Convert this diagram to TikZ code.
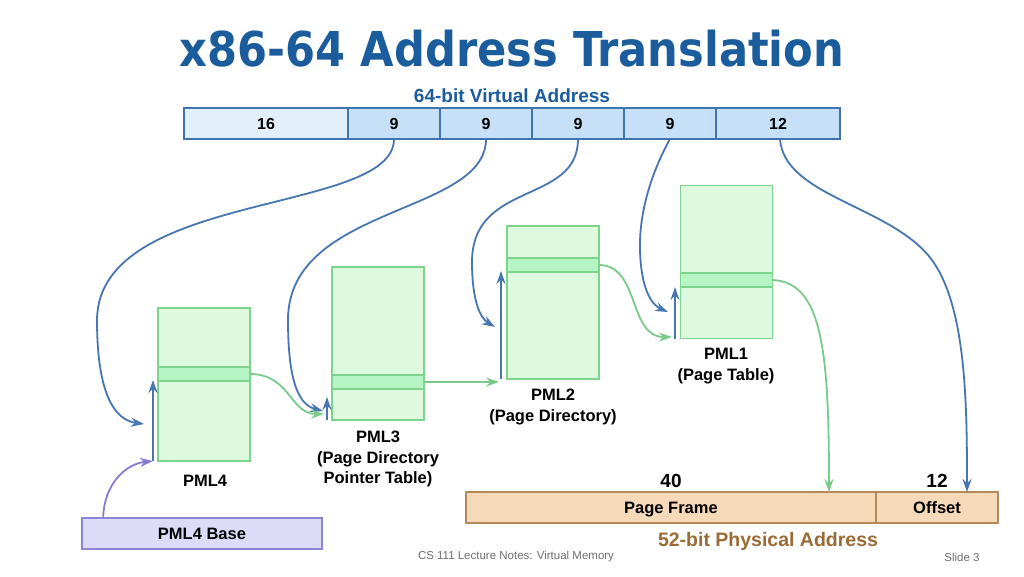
\documentclass[tikz,border=0pt]{standalone}
\usepackage{fontspec}
\setmainfont{Liberation Sans}
\newfontfamily\titlefont{DejaVu Sans Condensed}
\usetikzlibrary{arrows.meta,calc}
\definecolor{titleblue}{HTML}{1A5C9C}
\definecolor{barfill}{HTML}{C6E0F7}
\definecolor{barfillL}{HTML}{E2F0FC}
\definecolor{barline}{HTML}{3F74AE}
\definecolor{arrblue}{HTML}{4776B0}
\definecolor{tabfill}{HTML}{DDFADF}
\definecolor{tabrow}{HTML}{B5F5C3}
\definecolor{tabline}{HTML}{7ED48D}
\definecolor{grarrow}{HTML}{7ACB8A}
\definecolor{purfill}{HTML}{DCDCF8}
\definecolor{purline}{HTML}{8C84D6}
\definecolor{purarrow}{HTML}{8A7AD0}
\definecolor{pafill}{HTML}{F6D9B9}
\definecolor{paline}{HTML}{B5885A}
\definecolor{patext}{HTML}{9A6B35}
\definecolor{foot}{HTML}{6E6E6E}
\tikzset{
  field/.style={draw=barline, line width=1.6pt, fill=barfill, minimum height=31pt, inner sep=0pt, outer sep=0pt, text height=11.5pt, text depth=0pt, font=\fontsize{16}{18}\selectfont\bfseries},
  tablebox/.style={draw=tabline, line width=1.7pt, fill=tabfill, minimum width=92pt, minimum height=153pt, inner sep=0pt, outer sep=0pt},
  tablerow/.style={draw=tabline, line width=1.7pt, fill=tabrow, minimum width=92pt, minimum height=14pt, inner sep=0pt, outer sep=0pt},
  lbl/.style={font=\fontsize{16.5}{20.5}\selectfont\bfseries, align=center, inner sep=0pt},
  blarrow/.style={draw=arrblue, line width=1.8pt, -{Stealth[length=13pt,width=9pt]}},
  grarr/.style={draw=grarrow, line width=1.8pt, -{Stealth[length=13pt,width=9pt]}},
  pafield/.style={draw=paline, line width=1.6pt, fill=pafill, minimum height=31pt, inner sep=0pt, outer sep=0pt, text height=11.8pt, text depth=0pt, font=\fontsize{16.5}{20}\selectfont\bfseries},
}
\begin{document}
\begin{tikzpicture}[x=1pt,y=-1pt]
\path[use as bounding box, fill=white] (0,0) rectangle (1024,576);
% title
\node[text=titleblue, font=\titlefont\fontsize{48}{54}\selectfont\bfseries, inner sep=0pt] (title) at (512,49) {x86-64 Address Translation};
\node[text=titleblue, font=\fontsize{19}{22}\selectfont\bfseries, inner sep=0pt] (vlabel) at (512,96) {64-bit Virtual Address};
% virtual address bar
\node[field, fill=barfillL, minimum width=164pt] (f0) at (266,123.5) {16};
\node[field, minimum width=92pt] (f1) at (394,123.5) {9};
\node[field, minimum width=92pt] (f2) at (486,123.5) {9};
\node[field, minimum width=92pt] (f3) at (578,123.5) {9};
\node[field, minimum width=92pt] (f4) at (670,123.5) {9};
\node[field, minimum width=124pt] (f5) at (778,123.5) {12};
% tables
\node[tablebox] (p4) at (204,384.5) {};
\node[tablerow] (r4) at (204,374) {};
\node[tablebox] (p3) at (378,343.5) {};
\node[tablerow] (r3) at (378,382) {};
\node[tablebox] (p2) at (553,302.5) {};
\node[tablerow] (r2) at (553,265) {};
\node[tablebox] (p1) at (726.5,262) {};
\node[tablerow] (r1) at (726.5,280) {};
% table labels
\node[lbl] (l4) at (205,481) {PML4};
\node[lbl] (l3) at (378,459) {PML3\\(Page Directory\\Pointer Table)};
\node[lbl] (l2) at (553,407) {PML2\\(Page Directory)};
\node[lbl] (l1) at (726,366) {PML1\\(Page Table)};
% PML4 base
\node[draw=purline, line width=1.6pt, fill=purfill, minimum width=240pt, minimum height=31pt, inner sep=0pt, text height=11.8pt, text depth=0pt, font=\fontsize{16.5}{20}\selectfont\bfseries] (base) at (202,533.5) {PML4 Base};
% physical address
\node[pafield, minimum width=410pt] (pf) at (671,507.5) {Page Frame};
\node[pafield, minimum width=122pt] (po) at (937,507.5) {Offset};
\node[font=\fontsize{19}{22}\selectfont\bfseries, inner sep=0pt] (n40) at (671,481) {40};
\node[font=\fontsize{19}{22}\selectfont\bfseries, inner sep=0pt] (n12) at (937,481) {12};
\node[text=patext, font=\fontsize{19.5}{22}\selectfont\bfseries, inner sep=0pt] (plabel) at (768,541) {52-bit Physical Address};
% footer
\node[text=foot, font=\fontsize{11.5}{13}\selectfont, inner sep=0pt] (footl) at (516,557) {CS 111 Lecture Notes: Virtual Memory};
\node[text=foot, font=\fontsize{11.5}{13}\selectfont, inner sep=0pt] (footr) at (962,557) {Slide 3};
% coordinates
\coordinate (u4a) at (153,461); \coordinate (u4b) at (153,380);
\coordinate (u3a) at (327,420); \coordinate (u3b) at (327,397);
\coordinate (u2a) at (501,379); \coordinate (u2b) at (501,271);
\coordinate (u1a) at (675,339); \coordinate (u1b) at (675,287);
\coordinate (t4) at (144,424);
\coordinate (t3) at (323,411);
\coordinate (t2) at (495,327);
\coordinate (t1) at (668,312);
\coordinate (g3) at (324,414);
\coordinate (g2) at (499,382);
\coordinate (g1) at (672,337);
\coordinate (gpf) at (829,492);
\coordinate (gpo) at (967,492);
% blue index arrows (up)
\draw[blarrow] (u4a) -- (u4b);
\draw[blarrow] (u3a) -- (u3b);
\draw[blarrow] (u2a) -- (u2b);
\draw[blarrow] (u1a) -- (u1b);
% blue curves from virtual address
\draw[blarrow] (394,139) .. controls (394,215) and (98,190) .. (97,320) .. controls (97,395) and (115,420) .. (t4);
\draw[blarrow] (486,139) .. controls (486,215) and (288,205) .. (288,320) .. controls (288,385) and (300,405) .. (t3);
\draw[blarrow] (578,139) .. controls (578,205) and (472,180) .. (472,262) .. controls (472,300) and (480,318) .. (t2);
\draw[blarrow] (670,139) .. controls (650,175) and (639,215) .. (640,250) .. controls (641,290) and (652,305) .. (t1);
\draw[blarrow] (780,139) .. controls (784,195) and (885,205) .. (928,255) .. controls (966,300) and (967,400) .. (gpo);
% green
\draw[grarr] (r4.east) .. controls (290,374) and (290,414) .. (g3);
\draw[grarr] (r3.east) -- (g2);
\draw[grarr] (r2.east) .. controls (640,265) and (628,337) .. (g1);
\draw[grarr] (r1.east) .. controls (822,282) and (829,350) .. (gpf);
% purple
\draw[draw=purarrow, line width=1.8pt, -{Stealth[length=13pt,width=9pt]}] (base.north west) ++(22,0) .. controls (104,485) and (125,464) .. (u4a);
\end{tikzpicture}
\end{document}
